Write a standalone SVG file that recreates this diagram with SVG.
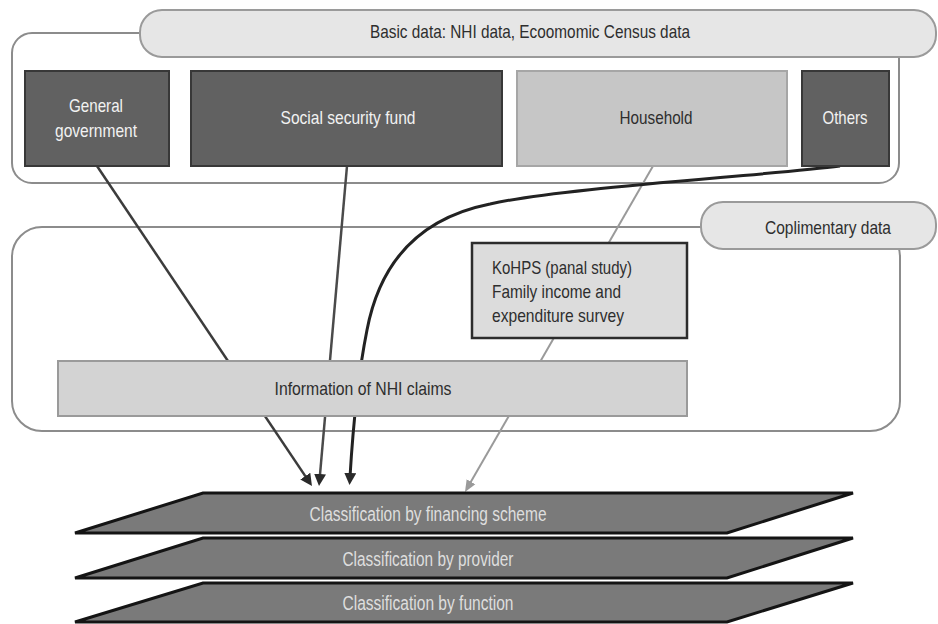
<svg xmlns="http://www.w3.org/2000/svg" width="938" height="624" viewBox="0 0 938 624">
<style>
text{font-family:"Liberation Sans",Arial,sans-serif;font-size:19px;}
.frame{fill:#ffffff;stroke:#8c8c8c;stroke-width:2;}
.pill{fill:#e6e6e6;stroke:#9a9a9a;stroke-width:2;}
.dark{fill:#616161;stroke:#383838;stroke-width:2;}
.light{fill:#c6c6c6;stroke:#a6a6a6;stroke-width:2;}
.kohps{fill:#dcdcdc;stroke:#2c2c2c;stroke-width:2.5;}
.bar{fill:#d3d3d3;stroke:#9a9a9a;stroke-width:2;}
.layer{fill:#7a7a7a;stroke:#141414;stroke-width:3;stroke-linejoin:miter;}
.tdark{fill:#2e2e2e;}
.tlight{fill:#f2f2f2;}
.tlayer{fill:#dedede;font-size:20px;}
.conn{fill:none;stroke-linecap:butt;}
</style>
<defs>
<marker id="ahDark" markerUnits="userSpaceOnUse" markerWidth="14" markerHeight="12" refX="4" refY="6" orient="auto">
<path d="M0,0 L12,6 L0,12 z" fill="#2a2a2a"/>
</marker>
<marker id="ahGray" markerUnits="userSpaceOnUse" markerWidth="14" markerHeight="12" refX="4" refY="6" orient="auto">
<path d="M0,1 L12,6 L0,11 z" fill="#9a9a9a"/>
</marker>
</defs>

<g id="basic-frame">
<rect class="frame" x="12" y="33" width="887" height="150" rx="20"/>
<rect class="pill" x="140" y="10" width="796" height="47" rx="22"/>
<text class="tdark" x="530" y="38" text-anchor="middle" textLength="320" lengthAdjust="spacingAndGlyphs">Basic data: NHI data, Ecoomomic Census data</text>
</g>

<g id="complementary-frame">
<rect class="frame" x="12" y="227" width="888" height="204" rx="30"/>
<rect class="pill" x="701" y="202" width="235" height="47" rx="22"/>
<text class="tdark" x="828" y="234" text-anchor="middle" textLength="126" lengthAdjust="spacingAndGlyphs">Coplimentary data</text>
</g>

<g id="connectors">
<path class="conn" d="M97,166 L307.5,479.4" stroke="#3c3c3c" stroke-width="2.5" marker-end="url(#ahDark)"/>
<path class="conn" d="M347,166 L319.7,478" stroke="#4a4a4a" stroke-width="2.5" marker-end="url(#ahDark)"/>
<path class="conn" d="M653,166 L469,485.1" stroke="#9a9a9a" stroke-width="2" marker-end="url(#ahGray)"/>
<path class="conn" d="M840,166 C760,176 560,188 490,204 C420,218 380,262 367,330 C360,365 354,410 350,477" stroke="#222222" stroke-width="3" marker-end="url(#ahDark)"/>
</g>

<g id="general-government">
<rect class="dark" x="25" y="71" width="144" height="95"/>
<text class="tlight" x="96" y="112" text-anchor="middle" textLength="54" lengthAdjust="spacingAndGlyphs">General</text>
<text class="tlight" x="96" y="137" text-anchor="middle" textLength="82" lengthAdjust="spacingAndGlyphs">government</text>
</g>

<g id="social-security-fund">
<rect class="dark" x="191" y="71" width="311" height="95"/>
<text class="tlight" x="348" y="124" text-anchor="middle" textLength="135" lengthAdjust="spacingAndGlyphs">Social security fund</text>
</g>

<g id="household">
<rect class="light" x="517" y="71" width="270" height="95"/>
<text class="tdark" x="656" y="124" text-anchor="middle" textLength="73" lengthAdjust="spacingAndGlyphs">Household</text>
</g>

<g id="others">
<rect class="dark" x="802" y="71" width="87" height="95"/>
<text class="tlight" x="845" y="124" text-anchor="middle" textLength="45" lengthAdjust="spacingAndGlyphs">Others</text>
</g>

<g id="kohps">
<rect class="kohps" x="472" y="243" width="215" height="95"/>
<text class="tdark" x="492" y="274" textLength="140" lengthAdjust="spacingAndGlyphs">KoHPS (panal study)</text>
<text class="tdark" x="492" y="298" textLength="129" lengthAdjust="spacingAndGlyphs">Family income and</text>
<text class="tdark" x="492" y="322" textLength="132" lengthAdjust="spacingAndGlyphs">expenditure survey</text>
</g>

<g id="nhi-claims">
<rect class="bar" x="58" y="361" width="629" height="55"/>
<text class="tdark" x="363" y="395" text-anchor="middle" textLength="177" lengthAdjust="spacingAndGlyphs">Information of NHI claims</text>
</g>

<g id="class-financing">
<polygon class="layer" points="203,493 853,493 727,533 75,533"/>
<text class="tlayer" x="428" y="521" text-anchor="middle" textLength="237" lengthAdjust="spacingAndGlyphs">Classification by financing scheme</text>
</g>

<g id="class-provider">
<polygon class="layer" points="203,538 853,538 727,578 75,578"/>
<text class="tlayer" x="428" y="566" text-anchor="middle" textLength="171" lengthAdjust="spacingAndGlyphs">Classification by provider</text>
</g>

<g id="class-function">
<polygon class="layer" points="203,583 853,583 727,622 75,622"/>
<text class="tlayer" x="428" y="610" text-anchor="middle" textLength="171" lengthAdjust="spacingAndGlyphs">Classification by function</text>
</g>
</svg>
